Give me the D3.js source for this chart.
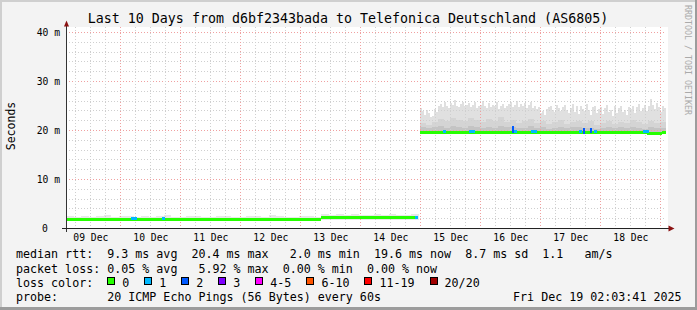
<!DOCTYPE html>
<html><head><meta charset="utf-8">
<script src="https://cdn.jsdelivr.net/npm/d3@7"></script>
<style>
html,body{margin:0;padding:0;background:#f3f3f3;}
svg{display:block;}
text{font-family:"DejaVu Sans Mono",monospace;white-space:pre;fill:#000;}
</style>
</head><body>
<svg id="c" width="697" height="310"></svg>
<script>
// ---------------- data ----------------
const title = "Last 10 Days from d6bf2343bada to Telefonica Deutschland (AS6805)";
const rangeStart = "2025-12-09 02:03:41";
const rangeEnd   = "2025-12-19 02:03:41";
const yMax = 40;
const yTickValues = [0, 10, 20, 30, 40];
const yTickLabels = ["0", "10 m", "20 m", "30 m", "40 m"];
const yLabel = "Seconds";

// median rtt (ms), step line: value holds from time i until time i+1 (null = no data)
const medianTimes  = ["2025-12-09 02:03:41","2025-12-13 08:03:00","2025-12-14 22:50:00","2025-12-14 23:38:00","2025-12-18 18:28:00","2025-12-19 00:28:00","2025-12-19 02:03:41"];
const medianValues = [1.95, 2.25, null, 19.7, 19.45, 19.7, null];

// smoke (highest ping) left part, 3 h steps
const leftSmokeStart = "2025-12-09 02:03:41";
const leftSmokeStepMin = 180;
const leftSmokeHigh = [2.5,2.4,2.6,2.3,2.5,2.7,2.4,2.6,2.5,2.3,2.6,2.4,2.5,2.7,2.3,2.4,2.6,2.5,2.3,2.4,2.6,2.5,2.4,2.3,2.5,2.6,2.4,2.7,2.5,2.3,2.4,2.6,2.5,2.4,
                       2.9,2.8,3.0,2.7,2.9,2.8,2.7,3.0,2.8,2.9,2.7,2.8,2.9];
const leftSmokeLow = 1.8;

// smoke right part
const rightSmokeStart = "2025-12-14 23:38:00";
const rightSmokeStepMin = 48;
const rightSmokeHigh = [24.5,24.0,23.2,24.2,23.5,22.8,23.0,
  24.3,23.8,25.0,
  25.4,24.8,25.8,25.1,24.6,25.6,25.2,26.2,25.0,24.7,25.5,25.9,24.9,25.3,25.7,24.8,25.2,25.9,24.6,25.1,
  25.2,26.1,25.0,24.5,25.6,24.7,25.3,24.9,25.8,24.4,25.1,25.5,24.6,25.0,25.4,
  25.9,24.8,25.3,26.0,24.7,25.5,24.9,25.7,24.5,25.2,25.8,24.6,25.0,24.3,24.8,
  23.6,24.0,23.2,24.3,24.8,
  25.0,24.2,23.7,25.2,24.5,23.9,24.8,25.3,24.1,23.6,
  24.6,25.4,23.8,24.9,23.3,25.1,24.4,23.9,25.5,24.2,23.1,24.7,25.0,23.6,24.3,
  24.8,23.4,24.5,25.2,23.7,24.1,22.9,24.9,23.5,24.6,25.0,23.8,24.2,23.2,24.7,
  24.4,25.1,23.6,24.8,25.4,23.9,24.6,25.3,24.0,24.9,26.5,25.2,24.3,25.6,24.7,23.8,25.0,24.5];
const rightBandStepMin = 144;
const rightSmokeMid = [21.6,21.2,21.8,22.3,22.0,22.6,22.2,21.9,22.5,22.1,21.7,22.4,22.0,22.7,21.8,22.2,21.5,21.9,22.3,21.6,
  22.0,21.4,21.8,22.1,21.3,21.7,22.0,21.5,21.9,21.2,21.6,22.0,21.4,21.8,21.5,22.1,21.7,21.3,21.9,21.5,21.8];
const rightSmokeLowBand = [20.7,20.5,20.8,20.9,20.6,21.0,20.8,20.6,20.9,20.7,20.5,20.8,20.6,21.0,20.7,20.8,20.5,20.6,20.9,20.6,
  20.7,20.4,20.6,20.8,20.5,20.7,20.8,20.5,20.6,20.4,20.6,20.8,20.5,20.7,20.5,20.8,20.6,20.4,20.7,20.5,20.6];
const rightSmokeMin = 19.3;

// loss events
const lossTimes = ["2025-12-10 04:03:00","2025-12-10 05:15:00","2025-12-10 16:27:00","2025-12-14 21:39:00","2025-12-15 08:52:00",
  "2025-12-15 19:16:00","2025-12-15 20:28:00","2025-12-16 12:28:00","2025-12-16 13:16:00","2025-12-16 20:04:00","2025-12-16 21:16:00",
  "2025-12-17 15:16:00","2025-12-17 16:52:00","2025-12-17 19:40:00","2025-12-17 21:16:00","2025-12-18 16:52:00","2025-12-18 18:04:00"];
const lossValues = [1.95,1.95,1.95,2.25,19.7,19.7,19.7,20.6,19.7,19.7,19.7,19.7,20.3,20.2,19.7,19.6,19.6];
const lossCounts = [1,1,1,1,1,1,1,2,1,1,1,1,2,2,1,1,1];

// legend
const lossColorLabels = ["0","1","2","3","4-5","6-10","11-19","20/20"];
const lossColorValues = ["#26ff00","#00b8ff","#0059ff","#7e00ff","#ff00ff","#ff5500","#ff0000","#a00000"];
const lossColorMin    = [0,1,2,3,4,6,11,20];
const legendLines = [
  "median rtt:  9.3 ms avg  20.4 ms max   2.0 ms min  19.6 ms now  8.7 ms sd  1.1   am/s",
  "packet loss: 0.05 % avg   5.92 % max  0.00 % min  0.00 % now"
];
const probeText = "probe:       20 ICMP Echo Pings (56 Bytes) every 60s";
const dateText = "Fri Dec 19 02:03:41 2025";
const watermark = "RRDTOOL / TOBI OETIKER";

// ---------------- drawing ----------------
const parse = d3.timeParse("%Y-%m-%d %H:%M:%S");
const svg = d3.select("#c");
const W = 697, H = 310;
const L = 66, R = 666, T = 32.5, B = 228.5;

const x = d3.scaleTime().domain([parse(rangeStart), parse(rangeEnd)]).range([L, R]);
const y = d3.scaleLinear().domain([0, yMax]).range([B, T]);
const lossColor = n => { let c = lossColorValues[0]; lossColorMin.forEach((m,i)=>{ if (n >= m) c = lossColorValues[i]; }); return c; };
const addMin = (d, m) => new Date(d.getTime() + m * 60000);

// background + borders
svg.append("rect").attr("x",0).attr("y",0).attr("width",W).attr("height",H).attr("fill","#f3f3f3");
svg.append("rect").attr("x",0).attr("y",0).attr("width",W).attr("height",2).attr("fill","#cfcfcf");
svg.append("rect").attr("x",0).attr("y",0).attr("width",2).attr("height",H).attr("fill","#cfcfcf");
svg.append("rect").attr("x",0).attr("y",H-3).attr("width",W).attr("height",3).attr("fill","#9c9c9c");
svg.append("rect").attr("x",W-2).attr("y",0).attr("width",2).attr("height",H).attr("fill","#9c9c9c");

// canvas
svg.append("rect").attr("x",L).attr("y",27).attr("width",R-L+2).attr("height",B-27).attr("fill","#ffffff");

const g = svg.append("g").attr("shape-rendering","crispEdges");

// left smoke
leftSmokeHigh.forEach((v,i) => {
  const t0 = addMin(parse(leftSmokeStart), i*leftSmokeStepMin), t1 = addMin(t0, leftSmokeStepMin);
  g.append("rect").attr("x",x(t0)).attr("width",x(t1)-x(t0)).attr("y",y(v)).attr("height",y(leftSmokeLow)-y(v)).attr("fill","#e8e8e8");
});
// right smoke
rightSmokeHigh.forEach((v,i) => {
  const t0 = addMin(parse(rightSmokeStart), i*rightSmokeStepMin), t1 = addMin(t0, rightSmokeStepMin);
  g.append("rect").attr("x",x(t0)).attr("width",x(t1)-x(t0)).attr("y",y(v)).attr("height",y(rightSmokeMin)-y(v)).attr("fill","#e0e0e0");
});
rightSmokeMid.forEach((v,i) => {
  const t0 = addMin(parse(rightSmokeStart), i*rightBandStepMin), t1 = addMin(t0, rightBandStepMin);
  g.append("rect").attr("x",x(t0)).attr("width",x(t1)-x(t0)).attr("y",y(v)).attr("height",y(rightSmokeMin)-y(v)).attr("fill","#d4d4d4");
});
rightSmokeLowBand.forEach((v,i) => {
  const t0 = addMin(parse(rightSmokeStart), i*rightBandStepMin), t1 = addMin(t0, rightBandStepMin);
  g.append("rect").attr("x",x(t0)).attr("width",x(t1)-x(t0)).attr("y",y(v)).attr("height",y(rightSmokeMin)-y(v)).attr("fill","#c4c4c4");
});

// grid
const gg = svg.append("g").attr("shape-rendering","crispEdges");
const minorY = d3.range(2, yMax+0.001, 2).filter(v => v % 10 !== 0);
minorY.forEach(v => {
  const yy = Math.round(y(v)-0.5)+0.5;
  gg.append("line").attr("x1",L).attr("x2",R).attr("y1",yy).attr("y2",yy).attr("stroke","#cfcfcf").attr("stroke-dasharray","1,2");
});
yTickValues.filter(v => v > 0).forEach(v => {
  const yy = Math.round(y(v)-0.5)+0.5;
  gg.append("line").attr("x1",L).attr("x2",R).attr("y1",yy).attr("y2",yy).attr("stroke","#f0a0a0").attr("stroke-dasharray","1,2");
});
const d0 = parse(rangeStart), d1 = parse(rangeEnd);
d3.timeHour.every(6).range(d0, d1).forEach(t => {
  const xx = Math.floor(x(t))+0.5;
  const major = t.getHours() === 0;
  gg.append("line").attr("x1",xx).attr("x2",xx).attr("y1",27).attr("y2",B)
    .attr("stroke", major ? "#f0a0a0" : "#cfcfcf").attr("stroke-dasharray","1,2");
});

// median line
const mg = svg.append("g").attr("shape-rendering","crispEdges");
medianValues.forEach((v,i) => {
  if (v === null || i === medianValues.length-1) return;
  const t0 = parse(medianTimes[i]), t1 = parse(medianTimes[i+1]);
  mg.append("rect").attr("x",x(t0)).attr("width",x(t1)-x(t0)).attr("y",Math.round(y(v))-1.5).attr("height",3).attr("fill",lossColorValues[0]);
});
// loss markers
lossTimes.forEach((ts,i) => {
  const t0 = parse(ts), t1 = addMin(t0, lossCounts[i] > 1 ? 48 : 72);
  const base = medianValues.reduce((acc,v,k) => (parse(medianTimes[k]) <= t0 && v !== null) ? v : acc, lossValues[i]);
  const top = Math.min(y(lossValues[i]), y(base)) - 1.5;
  const bot = Math.max(y(lossValues[i]), y(base)) + 1.5;
  mg.append("rect").attr("x",x(t0)).attr("width",x(t1)-x(t0)).attr("y",Math.round(top)).attr("height",Math.round(bot-top)).attr("fill",lossColor(lossCounts[i]));
});

// axes
const ag = svg.append("g").attr("shape-rendering","crispEdges");
ag.append("line").attr("x1",L+0.5).attr("x2",L+0.5).attr("y1",B+3).attr("y2",24).attr("stroke","#333");
ag.append("line").attr("x1",L-4).attr("x2",670).attr("y1",B).attr("y2",B).attr("stroke","#222");
svg.append("path").attr("d",`M${L-2},26.5 L${L+0.5},20.5 L${L+3},26.5 Z`).attr("fill","#8b1212");
svg.append("path").attr("d",`M668.5,${B-3} L674.5,${B} L668.5,${B+3} Z`).attr("fill","#8b1212");

// y labels
yTickValues.forEach((v,i) => {
  const lab = yTickLabels[i];
  svg.append("text").attr("x", v === 0 ? 45 : 60).attr("y", y(v)+3.5)
    .attr("text-anchor", v === 0 ? "middle" : "end").attr("font-size",9.7).text(lab);
});
// x labels at noon
const fmt = d3.timeFormat("%d %b");
d3.timeDay.range(d3.timeDay.floor(d0), d1).forEach(day => {
  const noon = d3.timeHour.offset(day, 12);
  if (noon < d0 || noon > d1) return;
  svg.append("text").attr("x", x(noon)).attr("y",240.5).attr("text-anchor","middle").attr("font-size",9.7).text(fmt(noon));
});

// title
svg.append("text").attr("x",348).attr("y",23.3).attr("text-anchor","middle").attr("font-size",13.3).text(title);
// y axis title
svg.append("text").attr("transform","translate(15,126) rotate(-90)").attr("text-anchor","middle").attr("font-size",11.5).text(yLabel);
// watermark
svg.append("text").attr("transform","translate(685,5) rotate(90)").attr("font-size",8.3).style("fill","#aaaaaa").text(watermark);

// legend
const cw = 7.02, lx = 16;
const rowY = [258.3, 272.6, 286.9, 301.2];
legendLines.forEach((s,i) => svg.append("text").attr("x",lx).attr("y",rowY[i]).attr("font-size",11.66).text(s));
svg.append("text").attr("x",lx).attr("y",rowY[2]).attr("font-size",11.66).text("loss color:");
let bx = lx + 13*cw;
lossColorLabels.forEach((lab,i) => {
  svg.append("rect").attr("x",Math.round(bx)+0.5).attr("y",rowY[2]-9.4).attr("width",7).attr("height",7)
    .attr("fill",lossColorValues[i]).attr("stroke","#000").attr("stroke-width",1).attr("shape-rendering","crispEdges");
  svg.append("text").attr("x",bx+15).attr("y",rowY[2]).attr("font-size",11.66).text(lab);
  bx += 15 + lab.length*cw + 15;
});
svg.append("text").attr("x",lx).attr("y",rowY[3]).attr("font-size",11.66).text(probeText);
svg.append("text").attr("x",681.5).attr("y",rowY[3]).attr("text-anchor","end").attr("font-size",11.66).text(dateText);
</script>
</body></html>
